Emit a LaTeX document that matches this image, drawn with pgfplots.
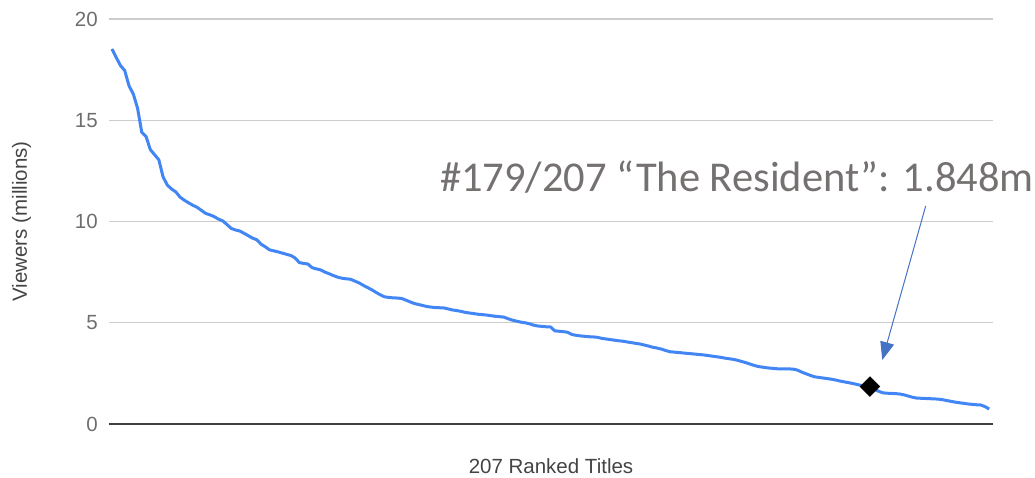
\documentclass[border=0pt]{standalone}
\usepackage{pgfplots}
\pgfplotsset{compat=1.18}
\usepackage{fontspec}
\setmainfont{Liberation Sans}
\newfontfamily\carlito{Carlito}
\usetikzlibrary{arrows.meta}
\definecolor{lineblue}{HTML}{4285F4}
\definecolor{arrowblue}{HTML}{4472C4}
\definecolor{tickgray}{HTML}{6E6E6E}
\definecolor{titlegray}{HTML}{444444}
\definecolor{notegray}{HTML}{767171}
\definecolor{gridgray}{HTML}{CCCCCC}
\begin{document}
\begin{tikzpicture}
\begin{axis}[
  name=ax,
  scale only axis,
  width=884pt, height=405pt,
  xmin=0.3, xmax=207.9,
  ymin=0, ymax=20,
  ytick={0,5,10,15,20},
  xtick=\empty,
  major tick length=0pt,
  ymajorgrids,
  grid style={draw=gridgray, line width=1.3pt},
  axis x line*=bottom,
  axis y line*=left,
  x axis line style={draw=black!75, line width=1.6pt, -},
  y axis line style={draw=none},
  /pgf/number format/assume math mode=true,
  yticklabel style={font=\fontsize{20.5}{24}\selectfont, text=tickgray, anchor=east, inner sep=0pt, xshift=-11pt},
  xlabel={207 Ranked Titles},
  ylabel={Viewers (millions)},
  xlabel style={font=\fontsize{20.5}{24}\selectfont, text=titlegray, at={(axis description cs:0.5,0)}, anchor=base, yshift=-50pt},
  ylabel style={font=\fontsize{20.5}{24}\selectfont, text=titlegray, at={(axis description cs:0,0.5)}, anchor=base, yshift=82pt},
  clip=false,
]
\addplot[lineblue, line width=3pt, line join=round, no markers] coordinates {
(1,18.52) (2,18.1) (3,17.7) (4,17.45) (5,16.7) (6,16.3) (7,15.6) (8,14.4) (9,14.2) (10,13.55)
(11,13.3) (12,13.05) (13,12.2) (14,11.8) (15,11.6) (16,11.46) (17,11.2) (18,11.05) (19,10.92) (20,10.8)
(21,10.7) (22,10.55) (23,10.4) (24,10.33) (25,10.24) (26,10.12) (27,10.03) (28,9.85) (29,9.66) (30,9.58)
(31,9.53) (32,9.42) (33,9.3) (34,9.18) (35,9.1) (36,8.88) (37,8.75) (38,8.6) (39,8.55) (40,8.5)
(41,8.44) (42,8.38) (43,8.32) (44,8.2) (45,7.97) (46,7.93) (47,7.9) (48,7.72) (49,7.66) (50,7.61)
(51,7.5) (52,7.42) (53,7.33) (54,7.25) (55,7.2) (56,7.17) (57,7.15) (58,7.06) (59,6.97) (60,6.85)
(61,6.74) (62,6.63) (63,6.5) (64,6.38) (65,6.28) (66,6.25) (67,6.23) (68,6.22) (69,6.2) (70,6.12)
(71,6.03) (72,5.95) (73,5.9) (74,5.85) (75,5.8) (76,5.77) (77,5.75) (78,5.74) (79,5.73) (80,5.68)
(81,5.63) (82,5.6) (83,5.56) (84,5.51) (85,5.48) (86,5.45) (87,5.42) (88,5.4) (89,5.38) (90,5.35)
(91,5.32) (92,5.3) (93,5.28) (94,5.2) (95,5.13) (96,5.08) (97,5.03) (98,5.0) (99,4.95) (100,4.88)
(101,4.84) (102,4.82) (103,4.8) (104,4.79) (105,4.6) (106,4.58) (107,4.56) (108,4.53) (109,4.42) (110,4.38)
(111,4.35) (112,4.33) (113,4.31) (114,4.3) (115,4.28) (116,4.23) (117,4.2) (118,4.17) (119,4.14) (120,4.11)
(121,4.09) (122,4.05) (123,4.02) (124,3.98) (125,3.95) (126,3.9) (127,3.85) (128,3.79) (129,3.75) (130,3.7)
(131,3.63) (132,3.57) (133,3.55) (134,3.53) (135,3.51) (136,3.49) (137,3.47) (138,3.45) (139,3.43) (140,3.41)
(141,3.38) (142,3.35) (143,3.32) (144,3.29) (145,3.25) (146,3.22) (147,3.19) (148,3.14) (149,3.08) (150,3.02)
(151,2.95) (152,2.88) (153,2.83) (154,2.8) (155,2.77) (156,2.75) (157,2.73) (158,2.72) (159,2.72) (160,2.72)
(161,2.71) (162,2.66) (163,2.56) (164,2.48) (165,2.4) (166,2.33) (167,2.3) (168,2.27) (169,2.24) (170,2.21)
(171,2.17) (172,2.12) (173,2.08) (174,2.04) (175,2.0) (176,1.95) (177,1.9) (178,1.87) (179,1.848) (180,1.72)
(181,1.62) (182,1.54) (183,1.52) (184,1.51) (185,1.5) (186,1.48) (187,1.44) (188,1.38) (189,1.32) (190,1.28)
(191,1.27) (192,1.26) (193,1.25) (194,1.24) (195,1.23) (196,1.2) (197,1.16) (198,1.12) (199,1.08) (200,1.05)
(201,1.02) (202,0.99) (203,0.97) (204,0.95) (205,0.94) (206,0.86) (207,0.74)
};
\addplot[only marks, mark=square*, mark size=7pt, mark options={rotate=45, fill=black, draw=black}] coordinates {(179,1.848)};
\draw[arrowblue, line width=1pt, -{Triangle[width=14pt,length=18pt]}] (axis cs:192.1,10.77) -- (axis cs:181.9,3.16);
\node[anchor=base west, inner sep=0pt, text=notegray, font=\carlito\fontsize{42.5}{50}\selectfont] at (axis cs:78,11.46) {\#179/207 “The Resident”: 1.848m};
\end{axis}
\pgfresetboundingbox
\path[use as bounding box] ([xshift=-109pt,yshift=-54pt]ax.south west) rectangle ([xshift=42pt,yshift=19pt]ax.north east);
\end{tikzpicture}
\end{document}
